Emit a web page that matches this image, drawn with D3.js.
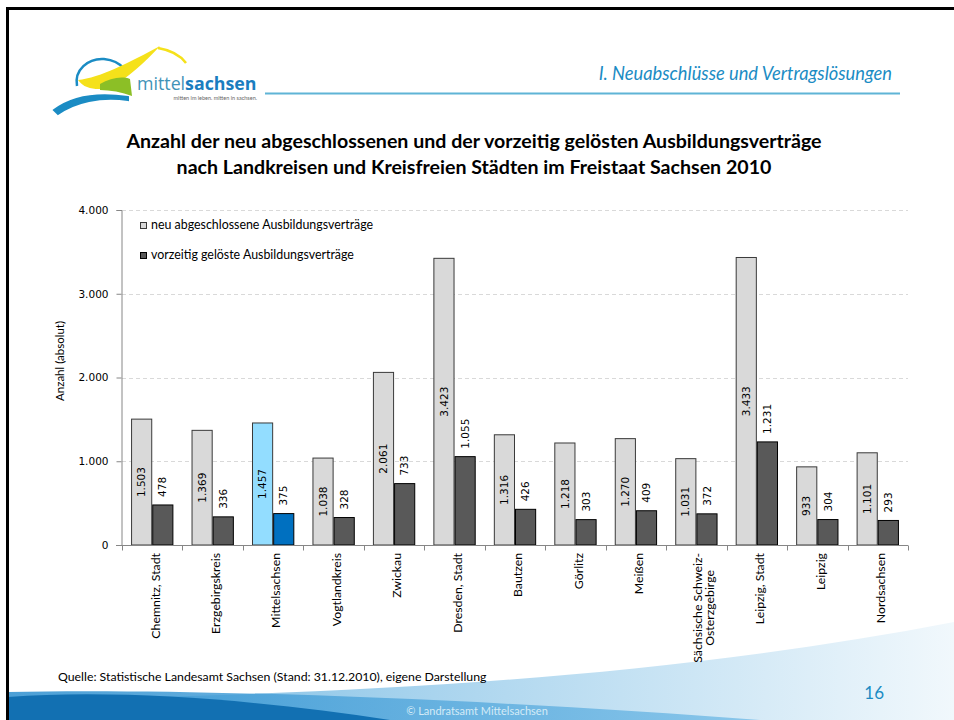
<!DOCTYPE html>
<html>
<head>
<meta charset="utf-8">
<script src="https://cdn.jsdelivr.net/npm/d3@7"></script>
<style>
  body { margin: 0; background: #fff; }
  svg { display: block; }
</style>
</head>
<body>
<svg width="954" height="720"></svg>
<script>
const categories = ["Chemnitz, Stadt", "Erzgebirgskreis", "Mittelsachsen", "Vogtlandkreis", "Zwickau",
  "Dresden, Stadt", "Bautzen", "Görlitz", "Meißen", "Sächsische Schweiz-\nOsterzgebirge",
  "Leipzig, Stadt", "Leipzig", "Nordsachsen"];
const neuAbgeschlossen = [1503, 1369, 1457, 1038, 2061, 3423, 1316, 1218, 1270, 1031, 3433, 933, 1101];
const vorzeitigGeloest = [478, 336, 375, 328, 733, 1055, 426, 303, 409, 372, 1231, 304, 293];
const seriesNames = ["neu abgeschlossene Ausbildungsverträge", "vorzeitig gelöste Ausbildungsverträge"];
const yTicks = [0, 1000, 2000, 3000, 4000];
const highlight = "Mittelsachsen";

const svg = d3.select("svg");
const width = +svg.attr("width");
const height = +svg.attr("height");

const de = d3.formatLocale({decimal: ",", thousands: ".", grouping: [3], currency: ["", " €"]});
const fmt = de.format(",d");

const calibri = "Lato, 'Open Sans', sans-serif";
const verdana = "'DejaVu Sans', Verdana, sans-serif";
const blue = "#1b8cc4";

// ---- slide decoration ----
const defs = svg.append("defs");
const g1 = defs.append("linearGradient").attr("id", "waveLight").attr("x1", 0).attr("x2", 1).attr("y1", 0).attr("y2", 0);
g1.append("stop").attr("offset", "0%").attr("stop-color", "#6fb6e0");
g1.append("stop").attr("offset", "45%").attr("stop-color", "#a9d4ee");
g1.append("stop").attr("offset", "100%").attr("stop-color", "#f1f8fc");
const g2 = defs.append("linearGradient").attr("id", "waveMid").attr("x1", 0).attr("x2", 1).attr("y1", 0).attr("y2", 0);
g2.append("stop").attr("offset", "0%").attr("stop-color", "#2d8fcf");
g2.append("stop").attr("offset", "100%").attr("stop-color", "#7cc0e8");

svg.append("path")
  .attr("d", "M8,720 L8,700 C250,695 600,690 954,622 L954,720 Z")
  .attr("fill", "url(#waveLight)");
svg.append("path")
  .attr("d", "M8,720 L8,692 C200,688 500,700 760,720 Z")
  .attr("fill", "url(#waveMid)").attr("opacity", 0.85);
svg.append("path")
  .attr("d", "M8,720 L8,697 C120,689 260,700 390,720 Z")
  .attr("fill", "#1270b2");

svg.append("text")
  .attr("x", 477).attr("y", 715)
  .attr("text-anchor", "middle")
  .attr("font-family", calibri).attr("font-size", 11)
  .attr("fill", "#d4ebf7")
  .text("© Landratsamt Mittelsachsen");

// frame
svg.append("path")
  .attr("d", "M7.5,720 L7.5,8.5 L954,8.5")
  .attr("fill", "none").attr("stroke", "#000").attr("stroke-width", 3);

// logo
const logo = svg.append("g").attr("class", "logo");
logo.append("path")
  .attr("d", "M77,86 C74,70 88,58 104,59 C113,60 120,64 123,68")
  .attr("fill", "none").attr("stroke", "#1b8cc4").attr("stroke-width", 2.5);
logo.append("path")
  .attr("d", "M78,80 C100,78 130,62 160,46 C145,62 128,78 110,88 C98,90 85,90 78,80 Z")
  .attr("fill", "#f5e11a");
logo.append("path")
  .attr("d", "M158,48 C170,50 180,55 186,63")
  .attr("fill", "none").attr("stroke", "#f5e11a").attr("stroke-width", 2.5);
logo.append("path")
  .attr("d", "M100,84 C110,78 122,76 130,79 L132,96 C122,92 110,90 100,90 Z")
  .attr("fill", "#8cbf26");
logo.append("path")
  .attr("d", "M54,110 C70,98 95,92 128,97 L128,100 C100,96 75,102 58,114 Z")
  .attr("fill", "#1b8cc4").attr("stroke", "#1b8cc4").attr("stroke-width", 2);
const logoText = logo.append("text")
  .attr("x", 137).attr("y", 90)
  .attr("font-family", "'Open Sans', sans-serif").attr("font-size", 17.8);
logoText.append("tspan").attr("fill", "#3f93b8").text("mittel");
logoText.append("tspan").attr("fill", "#1a7dbf").attr("font-weight", "bold").text("sachsen");
logo.append("text")
  .attr("x", 257).attr("y", 100).attr("text-anchor", "end")
  .attr("font-family", calibri).attr("font-size", 5.5).attr("fill", "#666")
  .text("mitten im leben. mitten in sachsen.");

svg.append("line")
  .attr("x1", 265).attr("x2", 900).attr("y1", 93.5).attr("y2", 93.5)
  .attr("stroke", "#5fb4d6").attr("stroke-width", 2);

svg.append("text")
  .attr("x", 892).attr("y", 80).attr("text-anchor", "end")
  .attr("font-family", calibri).attr("font-style", "italic").attr("font-size", 18.3)
  .attr("fill", blue)
  .text("I. Neuabschlüsse und Vertragslösungen");

svg.append("text")
  .attr("x", 58).attr("y", 681)
  .attr("font-family", calibri).attr("font-size", 12.3).attr("fill", "#000")
  .text("Quelle: Statistische Landesamt Sachsen (Stand: 31.12.2010), eigene Darstellung");

svg.append("text")
  .attr("x", 884).attr("y", 699).attr("text-anchor", "end")
  .attr("font-family", calibri).attr("font-size", 17).attr("fill", blue)
  .text("16");

// ---- chart ----
const title = svg.append("text")
  .attr("text-anchor", "middle")
  .attr("font-family", calibri).attr("font-weight", "bold").attr("font-size", 19.6)
  .attr("fill", "#000");
title.append("tspan").attr("x", 474).attr("y", 148)
  .text("Anzahl der neu abgeschlossenen und der vorzeitig gelösten Ausbildungsverträge");
title.append("tspan").attr("x", 474).attr("y", 174)
  .text("nach Landkreisen und Kreisfreien Städten im Freistaat Sachsen 2010");

const margin = {left: 122, right: 908, top: 210, bottom: 545};

const x = d3.scaleBand()
  .domain(categories)
  .range([margin.left, margin.right])
  .paddingInner(0.3)
  .paddingOuter(0.15);

const xSub = d3.scaleBand()
  .domain([0, 1])
  .range([0, x.bandwidth()]);

const y = d3.scaleLinear()
  .domain([0, 4000])
  .range([margin.bottom, margin.top]);

// gridlines
svg.append("g")
  .selectAll("line")
  .data(yTicks.filter(d => d > 0))
  .join("line")
  .attr("x1", margin.left).attr("x2", margin.right)
  .attr("y1", d => Math.round(y(d)) + 0.5).attr("y2", d => Math.round(y(d)) + 0.5)
  .attr("stroke", "#d9d9d9").attr("stroke-dasharray", "4,3");

// y axis
const yAxis = svg.append("g")
  .attr("transform", `translate(${margin.left - 0.5},0)`)
  .call(d3.axisLeft(y).tickValues(yTicks).tickFormat(fmt).tickSize(5).tickPadding(8));
yAxis.select(".domain").attr("stroke", "#868686");
yAxis.selectAll(".tick line").attr("stroke", "#868686");
yAxis.selectAll(".tick text")
  .attr("font-family", verdana).attr("font-size", 10.5).attr("fill", "#000");

svg.append("text")
  .attr("transform", `translate(64,361) rotate(-90)`)
  .attr("text-anchor", "middle")
  .attr("font-family", calibri).attr("font-size", 11.5)
  .text("Anzahl (absolut)");

// bars
const rows = categories.map((c, i) => ({cat: c, values: [neuAbgeschlossen[i], vorzeitigGeloest[i]]}));

const fills = [
  ["#d9d9d9", "#595959"],
  ["#93ddff", "#0070c0"]
];

const groups = svg.append("g").attr("class", "bars")
  .selectAll("g")
  .data(rows)
  .join("g")
  .attr("transform", d => `translate(${x(d.cat)},0)`);

groups.selectAll("rect")
  .data(d => d.values.map((v, k) => ({v, k, hi: d.cat === highlight})))
  .join("rect")
  .attr("x", d => xSub(d.k) + 0.5)
  .attr("y", d => y(d.v))
  .attr("width", xSub.bandwidth() - 1)
  .attr("height", d => y(0) - y(d.v))
  .attr("fill", d => fills[d.hi ? 1 : 0][d.k])
  .attr("stroke", d => d.k === 0 ? "#3a3a3a" : "#000")
  .attr("stroke-width", 1);

// value labels
groups.selectAll("text.val")
  .data(d => d.values.map((v, k) => ({v, k})))
  .join("text")
  .attr("class", "val")
  .attr("transform", d => {
    const cx = xSub(d.k) + xSub.bandwidth() / 2;
    const cy = d.k === 0 ? (y(d.v) + y(0)) / 2 : y(d.v) - 8;
    return `translate(${cx},${cy}) rotate(-90)`;
  })
  .attr("text-anchor", d => d.k === 0 ? "middle" : "start")
  .attr("dy", "0.35em")
  .attr("font-family", verdana).attr("font-size", 10.5).attr("fill", "#000")
  .text(d => fmt(d.v));

// x axis
const xAxis = svg.append("g")
  .attr("transform", `translate(0,${margin.bottom + 0.5})`);
xAxis.append("line")
  .attr("x1", margin.left - 6).attr("x2", margin.right)
  .attr("stroke", "#868686");
const step = x.step();
xAxis.selectAll("line.tick")
  .data(d3.range(categories.length + 1))
  .join("line")
  .attr("class", "tick")
  .attr("x1", i => Math.round(margin.left + i * step) + 0.5)
  .attr("x2", i => Math.round(margin.left + i * step) + 0.5)
  .attr("y1", 0).attr("y2", 5)
  .attr("stroke", "#868686");

const catLabels = svg.append("g").selectAll("g")
  .data(categories)
  .join("g");

catLabels.each(function(c) {
  const lines = c.split("\n");
  const g = d3.select(this);
  const cx = x(c) + x.bandwidth() / 2;
  const texts = lines.map((ln, i) => g.append("text")
    .attr("text-anchor", "middle")
    .attr("dy", "0.35em")
    .attr("font-family", calibri).attr("font-size", 12.3).attr("fill", "#000")
    .text(ln));
  const maxLen = d3.max(texts, t => t.node().getComputedTextLength());
  texts.forEach((t, i) => {
    const tx = cx + (lines.length > 1 ? 1.5 : 3) + i * 11.5;
    t.attr("transform", `translate(${tx},${553 + maxLen / 2}) rotate(-90)`);
  });
});

// legend
const legend = svg.append("g").attr("transform", "translate(140,222)");
legend.selectAll("rect")
  .data(seriesNames)
  .join("rect")
  .attr("x", 0.5).attr("y", (d, i) => i * 30 + 0.5)
  .attr("width", 6).attr("height", 6)
  .attr("fill", (d, i) => fills[0][i])
  .attr("stroke", (d, i) => i === 0 ? "#3a3a3a" : "#000");
legend.selectAll("text")
  .data(seriesNames)
  .join("text")
  .attr("x", 11).attr("y", (d, i) => i * 30 + 7)
  .attr("font-family", calibri).attr("font-size", 12.4).attr("fill", "#000")
  .text(d => d);
</script>
</body>
</html>
